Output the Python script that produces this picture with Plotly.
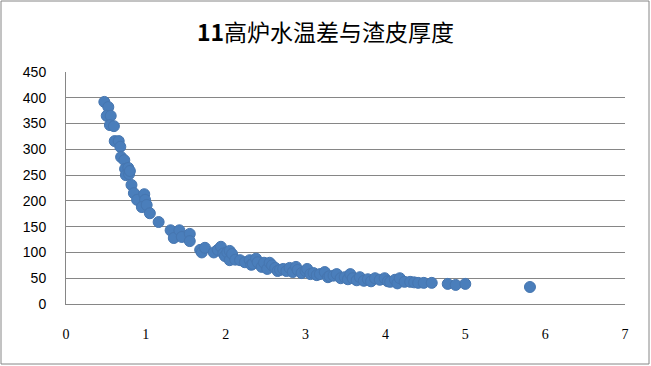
import plotly.graph_objects as go

title_text = "<b>11</b>高炉水温差与渣皮厚度"

x_vals = [0.48, 0.53, 0.51, 0.56, 0.55, 0.60, 0.61, 0.66, 0.68, 0.69, 0.73, 0.74, 0.78, 0.75, 0.79,
          0.80, 0.82, 0.85, 0.89, 0.98, 0.99, 0.95, 1.01, 1.05, 1.16, 1.31, 1.35, 1.42, 1.45, 1.55,
          1.55, 1.68, 1.70, 1.74, 1.85, 1.90, 1.94, 1.97, 1.99, 2.02, 2.05, 2.05, 2.08, 2.12, 2.18,
          2.24, 2.30, 2.32, 2.34, 2.38, 2.40, 2.45, 2.48, 2.52, 2.55, 2.58, 2.62, 2.65, 2.68, 2.72,
          2.76, 2.80, 2.84, 2.88, 2.90, 2.95, 3.00, 3.02, 3.06, 3.10, 3.14, 3.18, 3.24, 3.28, 3.30,
          3.35, 3.39, 3.44, 3.49, 3.53, 3.56, 3.59, 3.64, 3.68, 3.73, 3.78, 3.82, 3.87, 3.93, 3.99,
          4.03, 4.06, 4.12, 4.15, 4.18, 4.24, 4.31, 4.36, 4.41, 4.48, 4.58, 4.78, 4.88, 5.00, 5.81]
y_vals = [392, 382, 365, 365, 347, 345, 316, 316, 305, 285, 279, 262, 264, 250, 252,
          258, 231, 215, 202, 213, 202, 188, 192, 176, 159, 143, 128, 143, 130, 136,
          122, 105, 100, 109, 100, 105, 111, 98, 93, 100, 103, 85, 97, 86, 85,
          81, 85, 76, 78, 88, 81, 72, 80, 68, 80, 75, 70, 64, 66, 68,
          64, 70, 62, 72, 66, 60, 64, 68, 58, 60, 56, 58, 62, 52, 54,
          55, 58, 50, 52, 48, 58, 50, 46, 52, 45, 48, 44, 50, 47, 50,
          44, 43, 47, 40, 50, 43, 43, 42, 41, 41, 41, 39, 37, 39, 33]

x_ticks = [0, 1, 2, 3, 4, 5, 6, 7]
y_ticks = [0, 50, 100, 150, 200, 250, 300, 350, 400, 450]

grid_color = "#868686"

fig = go.Figure()
fig.add_trace(go.Scatter(
    x=x_vals, y=y_vals, mode="markers",
    marker=dict(size=11, color="#4a7ebb", line=dict(color="#4676b0", width=1)),
    showlegend=False,
))

W, H = 651, 366
L, R, T, B = 66, 26, 72, 62
pw, ph = W - L - R, H - T - B

fig.update_layout(
    width=W, height=H,
    margin=dict(l=L, r=R, t=T, b=B),
    paper_bgcolor="white", plot_bgcolor="white",
    title=dict(text=title_text, x=0.5, xanchor="center", y=1 - 33 / H, yanchor="middle",
               font=dict(family="Noto Sans CJK SC", size=23, color="black")),
    xaxis=dict(range=[0, 7], tickvals=x_ticks, showgrid=False, zeroline=False,
               showline=True, linecolor=grid_color, linewidth=1,
               tickfont=dict(family="Liberation Serif", size=14, color="black"),
               ticks="", ticklabelstandoff=17),
    yaxis=dict(range=[0, 450], tickvals=y_ticks, showgrid=True, gridcolor=grid_color,
               gridwidth=1, zeroline=False, showline=True, linecolor=grid_color, linewidth=1,
               tickfont=dict(family="Liberation Sans", size=14, color="black"),
               ticks="", ticklabelstandoff=16),
    shapes=[dict(type="rect", xref="paper", yref="paper",
                 x0=(1 - L) / pw, x1=(W - 2 - L) / pw,
                 y0=(H - B - (H - 2)) / ph, y1=(H - B - 1) / ph,
                 line=dict(color="#868686", width=1), fillcolor="rgba(0,0,0,0)", layer="below")],
)

fig.write_html("out.html")
